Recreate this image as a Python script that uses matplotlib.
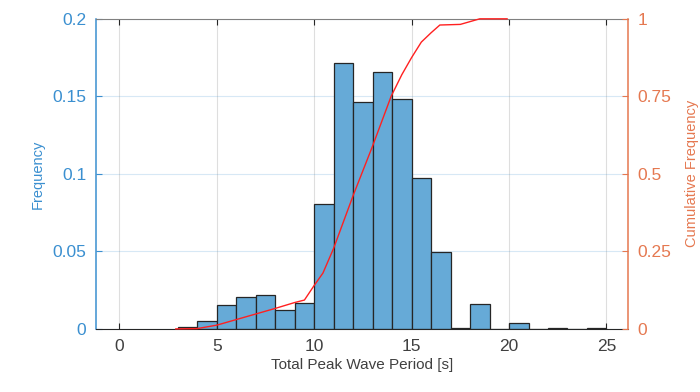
import matplotlib.pyplot as plt
import numpy as np

plt.rcParams['font.family'] = ['Liberation Sans', 'DejaVu Sans']

# histogram bins (left edges, width 1 s) and normalised frequency
bin_left = [3, 4, 5, 6, 7, 8, 9, 10, 11, 12, 13, 14, 15, 16, 17, 18, 19, 20, 21, 22, 23, 24]
freq = [0.0013, 0.0054, 0.0152, 0.0206, 0.0221, 0.0125, 0.0168, 0.0808, 0.1716, 0.1462,
        0.1656, 0.1480, 0.0974, 0.0497, 0.0005, 0.0163, 0.0, 0.0039, 0.0, 0.0006, 0.0, 0.0003]

# cumulative frequency curve
cdf_x = [2.9, 4.0, 5.0, 6.0, 7.0, 8.0, 9.0, 9.5, 10.0, 10.45, 11.0, 12.0, 13.0, 13.95,
         14.5, 15.0, 15.5, 16.0, 16.45, 17.5, 18.5, 19.9]
cdf_y = [0.0, 0.001, 0.012, 0.030, 0.048, 0.066, 0.085, 0.093, 0.14, 0.18, 0.26, 0.43, 0.59,
         0.75, 0.82, 0.875, 0.925, 0.955, 0.98, 0.982, 1.0, 1.0]

blue = '#3a8fd0'
orange = '#e57850'

fig = plt.figure(figsize=(7, 3.92), dpi=100)
ax = fig.add_axes([0.137, 0.161, 0.760, 0.791])

ax.bar(bin_left, freq, width=1, align='edge', color='#66aad7', edgecolor='#262626',
       linewidth=0.9, zorder=2)

ax.set_xlim(-1.2, 26.1)
ax.set_ylim(0, 0.2)
ax.set_xticks([0, 5, 10, 15, 20, 25])
ax.set_yticks([0, 0.05, 0.1, 0.15, 0.2])
ax.set_yticklabels(['0', '0.05', '0.1', '0.15', '0.2'])
ax.grid(axis='x', color='#262626', alpha=0.15, linewidth=0.8, zorder=0)
ax.grid(axis='y', color=blue, alpha=0.2, linewidth=0.8, zorder=0)
ax.set_axisbelow(True)

ax.tick_params(axis='x', direction='in', top=True, labelsize=12.5, colors='#262626',
               labelcolor='#404040', length=4, pad=7)
ax.tick_params(axis='y', direction='in', labelsize=12.5, colors=blue, length=4, pad=7)
ax.set_xlabel('Total Peak Wave Period [s]', fontsize=11, color='#404040', labelpad=3)
ax.set_ylabel('Frequency', fontsize=10.5, color=blue, labelpad=5)

ax.spines['left'].set_color(blue)
ax.spines['left'].set_linewidth(1.1)
ax.spines['bottom'].set_color('#262626')
ax.spines['top'].set_color('#808080')
ax.spines['right'].set_visible(False)

ax2 = ax.twinx()
ax2.plot(cdf_x, cdf_y, color='#ff2020', linewidth=1.0, zorder=3, clip_on=False)
ax2.set_ylim(0, 1)
ax2.set_yticks([0, 0.25, 0.5, 0.75, 1])
ax2.set_yticklabels(['0', '0.25', '0.5', '0.75', '1'])
ax2.tick_params(axis='y', direction='in', labelsize=12.5, colors=orange, length=4, pad=7)
ax2.set_ylabel('Cumulative Frequency', fontsize=10.5, color=orange, labelpad=10)
ax2.spines['right'].set_color(orange)
ax2.spines['right'].set_linewidth(1.1)
for s in ['left', 'top', 'bottom']:
    ax2.spines[s].set_visible(False)

fig.savefig('out.png', dpi=100)
